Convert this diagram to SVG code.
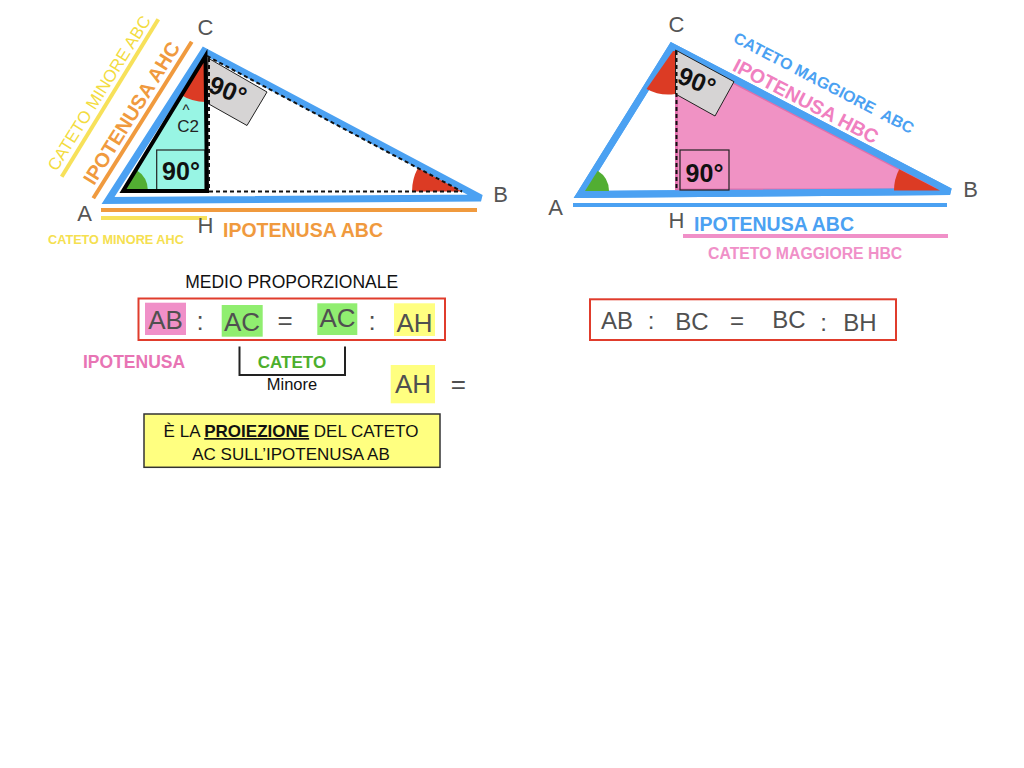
<svg xmlns="http://www.w3.org/2000/svg" width="1024" height="768" viewBox="0 0 1024 768">
<defs>
<style>
text{font-family:"Liberation Sans",Arial,sans-serif;}
.v{font-size:22px;fill:#555;text-anchor:middle;}
.blue{fill:#fff;stroke:#4BA1F2;stroke-width:7;stroke-linejoin:miter;stroke-miterlimit:4;}
.blueline{fill:none;stroke:#4BA1F2;stroke-width:7;stroke-linejoin:miter;stroke-miterlimit:4;}
.dash{fill:none;stroke:#111;stroke-width:2;stroke-dasharray:4 3;}
.red{fill:#DC3B24;}
.grn{fill:#52AE32;}
.gray{fill:#D6D4D4;stroke:#222;stroke-width:1;}
.deg{font-size:25px;font-weight:bold;fill:#111;text-anchor:middle;}
.eq{font-size:26px;fill:#505050;text-anchor:middle;}
.eq2{font-size:24px;fill:#505050;text-anchor:middle;}
</style>
</defs>
<rect width="1024" height="768" fill="#fff"/>

<g id="left-triangle">
<polygon class="blue" points="108,200.5 204,51 481,198"/>
<polygon class="gray" points="208,58 267,92 247,125.5 207,103"/>
<text class="deg" transform="translate(228,90) rotate(22)" y="9">90°</text>
<polygon points="123,191 205.5,56 207,191" fill="#98F5E4"/>
<path class="red" d="M205.5,56 L181.5,95.3 A46,46 0 0 0 205.5,102 Z"/>
<path class="grn" d="M123,191 L148,191 A25,25 0 0 0 136,169.7 Z"/>
<path class="red" d="M462,191.5 L412,191.5 A50,50 0 0 1 417.9,168 Z"/>
<rect x="156.7" y="150" width="48.3" height="40" fill="none" stroke="#222" stroke-width="1.2"/>
<text class="deg" x="181" y="180">90°</text>
<text x="186" y="115" font-size="15" fill="#222" text-anchor="middle">^</text>
<text x="188" y="131.5" font-size="17" fill="#222" text-anchor="middle">C2</text>
<polygon points="123,191 205.5,56 207,191" fill="none" stroke="#000" stroke-width="4" stroke-linejoin="miter"/>
<path class="dash" d="M207,56 L462,191.5 M209,191.5 H462 M209,58 V190"/>
</g>

<g id="left-labels">
<line x1="61.7" y1="176.7" x2="158.3" y2="19.3" stroke="#F7E15A" stroke-width="4"/>
<line x1="93.3" y1="198.3" x2="191.7" y2="41.7" stroke="#F09A3E" stroke-width="4"/>
<text transform="translate(99,93) rotate(-58)" y="6" font-size="17" fill="#F3DC40" text-anchor="middle">CATETO MINORE ABC</text>
<text transform="translate(131.5,113) rotate(-58)" y="7" font-size="20" font-weight="bold" fill="#F09A3E" text-anchor="middle">IPOTENUSA AHC</text>
<line x1="101" y1="210" x2="477" y2="210" stroke="#F09A3E" stroke-width="4"/>
<line x1="101" y1="218" x2="207" y2="218" stroke="#F7E15A" stroke-width="4"/>
<text x="223" y="236.5" font-size="19.5" font-weight="bold" fill="#F09A3E">IPOTENUSA ABC</text>
<text x="48" y="243.5" font-size="12.7" font-weight="bold" fill="#F5E050">CATETO MINORE AHC</text>
<text class="v" x="84.5" y="220.5">A</text>
<text class="v" x="205.5" y="35">C</text>
<text class="v" x="500.5" y="202">B</text>
<text class="v" x="205.5" y="232.5">H</text>
</g>

<g id="right-triangle">
<polygon class="blue" points="580,194.5 672,46.5 950,191.5"/>
<polygon points="676.5,52.8 676.5,190 940,190" fill="#F092C4" stroke="#E070AC" stroke-width="3"/>
<polygon class="blueline" points="580,194.5 672,46.5 950,191.5"/>
<path class="red" d="M673,51 L646.5,89 A46,46 0 0 0 675,94 L675,51 Z"/>
<path class="grn" d="M585,191 L609,191 A24,24 0 0 0 597.7,170.7 Z"/>
<path class="red" d="M940,190.5 L894,190.5 A46,46 0 0 1 899.2,169.2 Z"/>
<polygon class="gray" points="675.5,50 734,81.7 715,116 675.5,94"/>
<text class="deg" transform="translate(697,81) rotate(22)" y="9">90°</text>
<rect x="680" y="150" width="49" height="40" fill="none" stroke="#222" stroke-width="1.2"/>
<text class="deg" x="704.5" y="181.5">90°</text>
<path class="dash" d="M676.5,51 V190"/>
</g>

<g id="right-labels">
<text transform="translate(824,82.5) rotate(27.5)" y="6" font-size="16" font-weight="bold" fill="#4BA1F2" text-anchor="middle" style="white-space:pre">CATETO MAGGIORE  ABC</text>
<text transform="translate(806,101) rotate(27.5)" y="7" font-size="19.5" font-weight="bold" fill="#F080C0" text-anchor="middle">IPOTENUSA HBC</text>
<line x1="573" y1="205" x2="947" y2="205" stroke="#4BA1F2" stroke-width="4"/>
<line x1="683" y1="236" x2="948" y2="236" stroke="#F090C8" stroke-width="4"/>
<text x="694" y="231" font-size="19.5" font-weight="bold" fill="#4BA1F2">IPOTENUSA ABC</text>
<text x="708" y="258.5" font-size="15.8" font-weight="bold" fill="#F090C8">CATETO MAGGIORE HBC</text>
<text class="v" x="555.5" y="215">A</text>
<text class="v" x="676.5" y="31.7">C</text>
<text class="v" x="970.5" y="197">B</text>
<text class="v" x="676.5" y="228">H</text>
</g>

<g id="proportion-left">
<text x="291.7" y="288.3" font-size="17.5" fill="#111" text-anchor="middle">MEDIO PROPORZIONALE</text>
<rect x="138.5" y="298.5" width="306.5" height="41.5" fill="none" stroke="#E03C2C" stroke-width="2"/>
<rect x="145" y="302.7" width="41" height="32.3" fill="#F090C8"/>
<rect x="221.7" y="305" width="41" height="31.7" fill="#90EE70"/>
<rect x="317.3" y="303.3" width="40" height="31.7" fill="#90EE70"/>
<rect x="394" y="303.3" width="41" height="32.7" fill="#FFFF80"/>
<text class="eq" x="165.5" y="328.5">AB</text>
<text class="eq" x="200" y="330">:</text>
<text class="eq" x="242" y="331">AC</text>
<text class="eq" x="285" y="329">=</text>
<text class="eq" x="337.5" y="327">AC</text>
<text class="eq" x="372" y="330">:</text>
<text class="eq" x="414.5" y="332">AH</text>
</g>

<g id="annotations">
<text x="83" y="368" font-size="17.5" font-weight="bold" fill="#E874B4">IPOTENUSA</text>
<path d="M239.5,346.5 V375 H345 V346.5" fill="none" stroke="#222" stroke-width="2"/>
<text x="292" y="368" font-size="17" font-weight="bold" fill="#4CAF2C" text-anchor="middle">CATETO</text>
<text x="292" y="390" font-size="16.5" fill="#111" text-anchor="middle">Minore</text>
<rect x="390.7" y="365" width="44.3" height="38.3" fill="#FFFF80"/>
<text class="eq" x="413" y="393.3">AH</text>
<text class="eq" x="458.3" y="393">=</text>
</g>

<g id="note">
<rect x="144" y="414" width="296" height="53.3" fill="#FFFF80" stroke="#333" stroke-width="1.5"/>
<text x="291" y="437" font-size="17" fill="#111" text-anchor="middle">È LA <tspan font-weight="bold" text-decoration="underline">PROIEZIONE</tspan> DEL CATETO</text>
<text x="291" y="460" font-size="17" fill="#111" text-anchor="middle">AC SULL’IPOTENUSA AB</text>
</g>

<g id="proportion-right">
<rect x="590" y="299.3" width="306" height="40.7" fill="none" stroke="#E03C2C" stroke-width="2"/>
<text class="eq2" x="617" y="328.5">AB</text>
<text class="eq2" x="651" y="328.5">:</text>
<text class="eq2" x="692" y="330">BC</text>
<text class="eq2" x="737" y="329">=</text>
<text class="eq2" x="789" y="328.3">BC</text>
<text class="eq2" x="823.5" y="330.7">:</text>
<text class="eq2" x="860" y="330.5">BH</text>
</g>
</svg>
